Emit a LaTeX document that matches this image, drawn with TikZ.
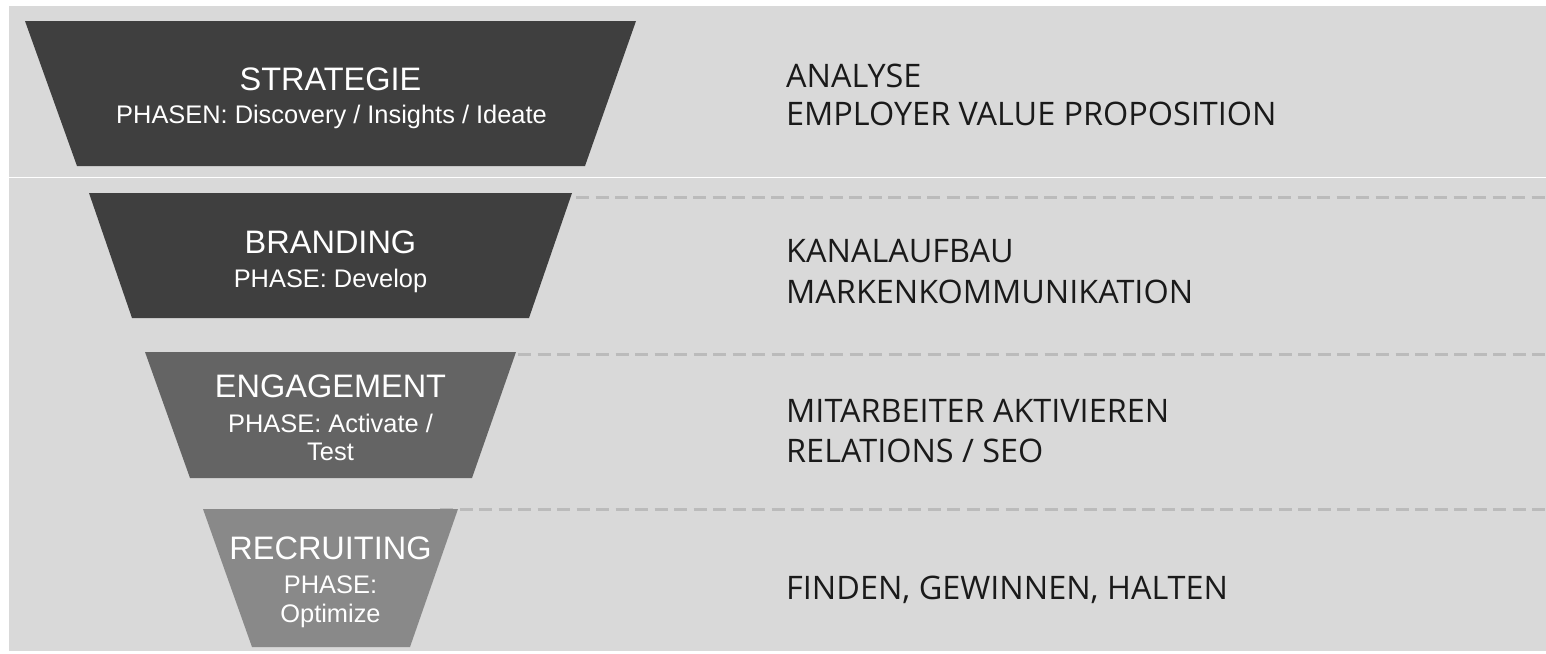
\documentclass[tikz,border=0pt]{standalone}
\usepackage{fontspec}
\setmainfont{Liberation Sans}
\newfontfamily\itemfont{Open Sans}
\definecolor{bandgray}{HTML}{D9D9D9}
\definecolor{darkfun}{HTML}{3F3F3F}
\definecolor{midfun}{HTML}{646464}
\definecolor{lightfun}{HTML}{898989}
\definecolor{dashgray}{HTML}{BBBBBB}
\definecolor{txtdark}{HTML}{1A1A1A}
\begin{document}
\begin{tikzpicture}[x=1pt,y=-1pt,
  title/.style={anchor=base,text=white,inner sep=0pt,font=\fontsize{32.5}{38}\selectfont},
  phase/.style={anchor=base,text=white,inner sep=0pt,font=\fontsize{25.4}{29}\selectfont},
  item/.style={anchor=base west,text=txtdark,inner sep=0pt,font=\itemfont\fontsize{32.4}{40}\selectfont},
  guide/.style={draw=dashgray,line width=3pt,dash pattern=on 13pt off 6.5pt}]
\useasboundingbox (0,0) rectangle (1546,653);
\fill[white] (0,0) rectangle (1546,653);
\fill[bandgray] (8.5,5.5) rectangle (1546,651);
\draw[white,line width=1.2pt] (8.5,177.5) -- (1546,177.5);

% dashed guide lines
\coordinate (g1a) at (576,197);   \coordinate (g1b) at (1546,197);
\coordinate (g2a) at (518,354);   \coordinate (g2b) at (1546,354);
\coordinate (g3a) at (440,509);   \coordinate (g3b) at (1546,509);
\draw[guide] (g1a) -- (g1b);
\draw[guide] (g2a) -- (g2b);
\draw[guide] (g3a) -- (g3b);

% funnel levels
\fill[darkfun]  (25,21)   -- (636,21)  -- (585,166) -- (77,166)  -- cycle;
\fill[darkfun]  (89,193)  -- (572,193) -- (529,318) -- (132,318) -- cycle;
\fill[midfun]   (145,352) -- (516,352) -- (472,478) -- (190,478) -- cycle;
\fill[lightfun] (203,509) -- (458,509) -- (410,647) -- (252,647) -- cycle;

% funnel texts
\node[title] (s1) at (330.5,90)  {STRATEGIE};
\node[phase] (s2) at (331.5,123) {PHASEN: Discovery / Insights / Ideate};
\node[title] (b1) at (330.5,253.5) {BRANDING};
\node[phase] (b2) at (330.5,287) {PHASE: Develop};
\node[title] (e1) at (330.5,397) {ENGAGEMENT};
\node[phase] (e2) at (330.5,432) {PHASE: Activate /};
\node[phase] (e3) at (330.5,460) {Test};
\node[title] (r1) at (330.5,559) {RECRUITING};
\node[phase] (r2) at (330.5,593) {PHASE:};
\node[phase] (r3) at (330.5,622) {Optimize};

% right texts
\node[item] (a1) at (786,87)  {ANALYSE};
\node[item] (a2) at (786,125) {EMPLOYER VALUE PROPOSITION};
\node[item] (k1) at (786,262) {KANALAUFBAU};
\node[item] (k2) at (786,303) {MARKENKOMMUNIKATION};
\node[item] (m1) at (786,422) {MITARBEITER AKTIVIEREN};
\node[item] (m2) at (786,462) {RELATIONS / SEO};
\node[item] (f1) at (786,599) {FINDEN, GEWINNEN, HALTEN};
\end{tikzpicture}
\end{document}
